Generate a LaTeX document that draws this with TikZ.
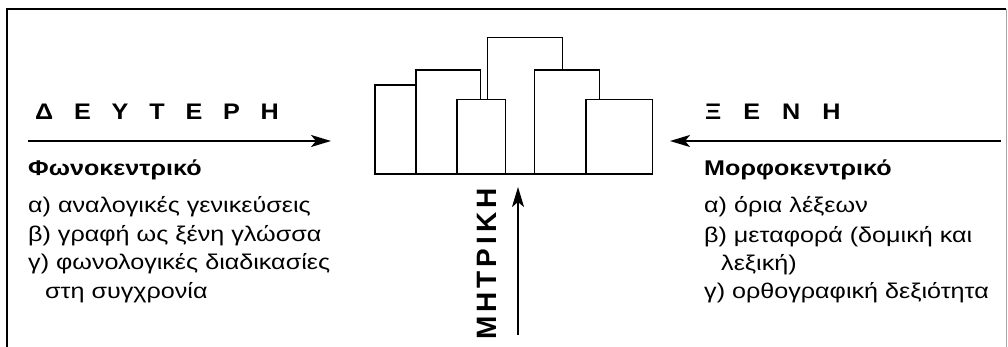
\documentclass[tikz,border=0pt]{standalone}
\usepackage{fontspec}
\setmainfont[FakeStretch=1.18]{Liberation Sans}
\newfontfamily\headfont[FakeStretch=1.12]{Liberation Sans}
\newfontfamily\vertfont[LetterSpace=14]{Liberation Sans}
\usetikzlibrary{arrows.meta}
\tikzset{
  txt/.style={anchor=base west, inner sep=0pt, font=\fontsize{21.3}{25}\selectfont},
  txtb/.style={txt, font=\fontsize{21.3}{25}\selectfont\bfseries},
  head/.style={anchor=base west, inner sep=0pt, font=\fontsize{22.5}{26}\selectfont\headfont\bfseries},
  bar/.style={line width=1.2pt, fill=white},
  flow/.style={line width=2pt, -{Stealth[length=20pt,width=12pt,inset=5pt]}}
}
\begin{document}
\begin{tikzpicture}[x=1pt,y=-1pt]
\useasboundingbox (0,0) rectangle (1008,347);
% frame
\draw[line width=2pt] (7,347) -- (7,9) -- (1006,9);
\draw[black!35, line width=0.8pt] (1006.5,9) -- (1006.5,347);
% buildings
\draw[bar] (487.7,37.3) rectangle (562.7,174);
\draw[bar] (416,70) rectangle (480.7,174);
\draw[bar] (534.7,70) rectangle (599.3,174);
\draw[bar] (375,85) rectangle (416,174);
\draw[bar] (457,99.3) rectangle (505.7,174);
\draw[bar] (586,99.3) rectangle (652.3,174);
% headings
\node[head] (deut) at (35,120) {{\spaceskip=20.8pt Δ Ε Υ Τ Ε Ρ Η}};
\node[head] (xeni) at (705,120) {{\spaceskip=22pt Ξ Ε Ν Η}};
\node[anchor=center, inner sep=0pt, rotate=90, font=\fontsize{28}{32}\selectfont\vertfont\bfseries] (mitr) at (486.5,264) {ΜΗΤΡΙΚΗ};
% arrows
\coordinate (ls) at (28,141);
\coordinate (le) at (331,141);
\coordinate (rs) at (1001,141);
\coordinate (re) at (670,141);
\coordinate (vs) at (518,335);
\coordinate (ve) at (518,187);
\draw[flow] (ls) -- (le);
\draw[flow] (rs) -- (re);
\draw[flow] (vs) -- (ve);
% left list
\node[txtb] (l0) at (28,175.5) {Φωνοκεντρικό};
\node[txt] (l1) at (28,212.5) {α) αναλογικές γενικεύσεις};
\node[txt] (l2) at (28,241.5) {β) γραφή ως ξένη γλώσσα};
\node[txt] (l3) at (28,269.5) {γ) φωνολογικές διαδικασίες};
\node[txt] (l4) at (45,298) {στη συγχρονία};
% right list
\node[txtb] (r0) at (704,175.5) {Μορφοκεντρικό};
\node[txt] (r1) at (704,213) {α) όρια λέξεων};
\node[txt] (r2) at (704,242) {β) μεταφορά (δομική και};
\node[txt] (r3) at (721,270) {λεξική)};
\node[txt] (r4) at (704,298) {γ) ορθογραφική δεξιότητα};
\end{tikzpicture}
\end{document}
